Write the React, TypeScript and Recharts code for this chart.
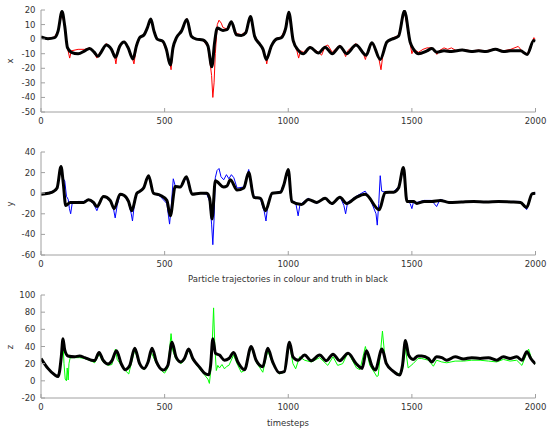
import React from 'react';
import { Line, LineChart, XAxis, YAxis } from 'recharts';

// timesteps on the shared horizontal axis
const timeTicks = [0, 500, 1000, 1500, 2000];
const xTicks = [-50, -40, -30, -20, -10, 0, 10, 20];
const yTicks = [-60, -40, -20, 0, 20, 40];
const zTicks = [-20, 0, 20, 40, 60, 80, 100];

// x: truth (black)
const xTruthT = [0, 28, 55, 69, 85, 96, 107, 123, 150, 177, 197, 214, 231, 244, 264, 285, 301, 318, 336, 352, 372, 386, 399, 417, 430, 444, 457, 470, 493, 507, 523, 534, 548, 568, 590, 608, 628, 655, 675, 691, 702, 713, 736, 752, 770, 790, 810, 828, 847, 864, 885, 898, 911, 932, 952, 972, 990, 1002, 1020, 1040, 1061, 1088, 1122, 1149, 1178, 1209, 1236, 1274, 1315, 1338, 1372, 1399, 1419, 1446, 1470, 1493, 1507, 1527, 1561, 1581, 1601, 1630, 1660, 1703, 1740, 1770, 1800, 1838, 1870, 1900, 1939, 1966, 1993, 2000];
const xTruthV = [1.5, 0.3, 1, 5.5, 19, 9, -5.8, -9, -10, -8, -6.4, -8.7, -11.8, -8.7, -4, -7, -12.5, -5, -2, -5.8, -13.6, -4.6, 1, 3, 7.7, 13.8, 5.5, 0, -1.5, -7, -17.7, -5.8, 1, 5.5, 13.4, 2, 0, -0.6, -4.6, -19, -2.4, 7.7, 6, 6.5, 12, 3, 2.5, 4.4, 15.6, 2, -3.5, -7, -14, -4.6, 0, 1, 7.7, 18.5, -1, -7.5, -10, -5.7, -9.5, -5.5, -10, -5, -10, -4, -11, -2.5, -13.9, -2, 0, 2, 19.3, -2, -7, -10, -8, -6.5, -9, -8, -8.5, -7.5, -8.5, -8, -8.5, -7, -8.5, -8, -8, -10.5, -1, -1.5];

// x: particle (red)
const xPartT = [0, 28, 55, 69, 85, 96, 107, 116, 123, 150, 177, 197, 214, 226, 235, 244, 264, 285, 296, 303, 310, 318, 336, 352, 368, 376, 386, 399, 417, 430, 444, 457, 470, 493, 507, 520, 526, 534, 548, 568, 590, 608, 628, 655, 675, 685, 690, 695, 700, 705, 713, 720, 729, 736, 752, 770, 790, 810, 828, 847, 864, 885, 898, 908, 913, 920, 932, 952, 972, 990, 1002, 1020, 1035, 1042, 1050, 1061, 1088, 1122, 1135, 1149, 1160, 1178, 1209, 1225, 1232, 1240, 1274, 1300, 1312, 1320, 1338, 1365, 1375, 1385, 1399, 1419, 1446, 1470, 1493, 1500, 1507, 1527, 1545, 1561, 1581, 1595, 1601, 1610, 1630, 1645, 1660, 1680, 1703, 1740, 1770, 1800, 1838, 1870, 1900, 1930, 1945, 1966, 1980, 1993, 2000];
const xPartV = [1.5, 0.5, 1.5, 6, 18, 8, -6, -13, -8, -7, -7, -6, -9, -13, -10, -8, -3, -7, -10, -17, -8, -4, -1.5, -5.5, -12, -17, -5, 1, 3.5, 8, 14, 5, 0, -2, -8, -15, -21, -6, 1.5, 6, 14, 2, 0, -1, -5, -18, -25, -40, -30, -10, 10, 13, 11, 8, 7, 12.5, 4, 3, 5, 15, 2, -3, -8, -12, -17, -10, -4, 0.5, 1.5, 8, 18, -2, -8, -13, -8, -9, -5, -9, -11, -5, -4, -9, -4, -9, -12, -8, -3, -8, -14, -9, -2, -12, -21, -8, -2, 0.5, 2.5, 19, -3, -10, -7, -9, -7, -6, -6, -8, -10.5, -8, -6, -7, -6, -8, -7, -8, -7.5, -8, -6.5, -8, -7, -5, -8, -10.5, -5, 1, 0];

// y: truth (black)
const yTruthT = [0, 30, 50, 65, 81, 90, 100, 118, 150, 172, 192, 212, 226, 253, 280, 296, 320, 335, 354, 367, 388, 401, 415, 435, 455, 482, 509, 523, 543, 563, 588, 611, 645, 671, 682, 692, 705, 739, 752, 766, 793, 820, 840, 861, 888, 908, 935, 969, 982, 1000, 1014, 1054, 1081, 1115, 1149, 1176, 1209, 1236, 1275, 1311, 1368, 1392, 1426, 1446, 1466, 1480, 1507, 1520, 1550, 1580, 1615, 1650, 1700, 1750, 1800, 1850, 1900, 1939, 1964, 1986, 2000];
const yTruthV = [-1, 0, 1.7, 5, 26, 10, -12, -9, -9, -9, -6.4, -9, -13, -3.2, -7, -15, -1, -2, -8, -17, 0, 2, 5, 17, 0, -2, -7, -22, 6.6, 6, 16, -1, 0, 0, -5, -25, 12, 6, 7, 13, 3, 5, 20, -4, -5, -17, 0, 1, 8, 23, -8, -11, -6, -9, -5, -10, -4, -10, -4, -1, -16, 0.7, 1, 5, 25, -8, -8, -10, -8, -8, -7, -9, -8.5, -8, -8.5, -8, -8.5, -9, -14, -0.6, 0];

// y: particle (blue)
const yPartT = [0, 30, 50, 65, 81, 90, 96, 103, 110, 115, 120, 126, 150, 172, 192, 212, 226, 240, 253, 280, 293, 300, 308, 320, 335, 354, 365, 370, 378, 388, 401, 415, 435, 455, 482, 509, 520, 526, 535, 543, 563, 588, 611, 645, 671, 682, 690, 695, 700, 705, 712, 720, 728, 739, 750, 760, 770, 780, 793, 820, 840, 861, 888, 903, 910, 918, 935, 969, 982, 1000, 1014, 1030, 1040, 1048, 1054, 1081, 1115, 1149, 1176, 1209, 1225, 1232, 1240, 1275, 1311, 1330, 1355, 1360, 1366, 1372, 1378, 1392, 1426, 1446, 1466, 1480, 1493, 1500, 1507, 1520, 1550, 1580, 1600, 1610, 1615, 1650, 1700, 1750, 1800, 1850, 1900, 1939, 1964, 1986, 2000];
const yPartV = [-1, 0.5, 2, 5.5, 25, 14, 12, -3, -6, -15, -20, -10, -8, -8, -6, -10, -17, -8, -3, -7, -15, -24, -12, -1, -1.5, -9, -20, -27, -10, 0, 2.5, 6, 17, 0, -3, -10, -30, -15, 14, 7, 6, 15, -1, 0, -1, -8, -30, -50, -25, 15, 22, 24, 16, 13, 18, 14, 18, 15, 5, 6, 23, -3, -6, -18, -27, -10, 0, 1.5, 9, 22, -7, -9, -22, -10, -10, -5, -10, -4, -11, -3, -12, -20, -9, -3, 2, -5, -20, -31, -10, 17, 2, 1, 1.5, 6, 24, -7, -10, -15, -8, -9, -7, -7, -13, -8, -6, -9, -8, -8.5, -8, -8.5, -8, -8, -16, 0, 0];

// z: truth (black)
const zTruthT = [0, 28, 55, 69, 75, 82, 89, 96, 109, 136, 156, 177, 204, 217, 235, 251, 271, 287, 305, 325, 341, 359, 379, 399, 417, 433, 449, 467, 494, 513, 530, 546, 566, 580, 597, 614, 641, 661, 679, 686, 695, 706, 722, 742, 760, 779, 796, 823, 850, 870, 897, 917, 937, 964, 984, 1005, 1019, 1040, 1066, 1093, 1127, 1154, 1181, 1208, 1242, 1276, 1299, 1316, 1339, 1352, 1379, 1397, 1424, 1451, 1462, 1474, 1487, 1505, 1525, 1540, 1567, 1580, 1600, 1621, 1641, 1675, 1709, 1742, 1776, 1810, 1843, 1870, 1897, 1924, 1945, 1965, 1981, 2000];
const zTruthV = [26, 14.5, 7, 5, 11, 28, 49, 36, 29, 28, 29, 27, 24, 23.5, 33, 24, 19.6, 23.5, 35, 19.6, 13, 18, 38, 20, 14.5, 22, 38, 22, 12.5, 18, 45, 28, 22, 26, 37, 26, 16, 9, 7, 18, 49, 32, 30, 24, 26, 33, 22, 13, 40, 24, 16.5, 38, 22, 9.4, 10.6, 45, 28, 24, 30, 23.5, 30, 23.5, 31, 23.5, 32, 19.6, 14.5, 35, 17, 12.5, 37, 20, 11.4, 6.7, 18, 47, 30, 25, 29, 29, 26, 22, 28, 27, 24, 28, 25.5, 27, 26, 27, 24, 28, 26, 28, 24, 34, 26, 19.6];

// z: particle (green)
const zPartT = [0, 28, 55, 69, 75, 82, 89, 93, 98, 103, 106, 110, 113, 118, 136, 156, 177, 204, 217, 235, 251, 271, 287, 301, 308, 325, 341, 355, 359, 379, 399, 417, 433, 446, 467, 494, 500, 513, 526, 533, 546, 566, 580, 597, 614, 641, 661, 675, 681, 686, 692, 698, 703, 709, 715, 722, 732, 742, 752, 760, 779, 796, 810, 823, 850, 870, 897, 917, 937, 964, 984, 1005, 1019, 1030, 1046, 1066, 1093, 1127, 1160, 1181, 1200, 1220, 1242, 1276, 1290, 1312, 1330, 1352, 1358, 1364, 1372, 1381, 1390, 1397, 1424, 1451, 1462, 1474, 1485, 1505, 1525, 1540, 1567, 1587, 1600, 1621, 1641, 1675, 1709, 1742, 1776, 1810, 1843, 1870, 1897, 1924, 1945, 1972, 1985, 2000];
const zPartV = [26, 14, 6.5, 4.5, 10, 25, 45, 20, 2, 0, 15, 1, 20, 27, 27, 27, 26, 23, 21, 31, 22, 18, 19, 37, 25, 18, 12, 8, 13, 36, 18, 13, 20, 33, 20, 10, 9, 15, 55, 35, 25, 20, 24, 36, 24, 14, 7, 2, -3, 10, 40, 85, 40, 12, 18, 15, 19, 14, 17, 18, 30, 18, 10, 12, 40, 22, 10, 35, 20, 8, 10, 43, 20, 14, 28, 24, 22, 27, 18, 28, 18, 20, 33, 15, 13, 40, 18, 8, 5, 6, 30, 58, 30, 20, 10, 8, 12, 38, 15, 20, 26, 26, 24, 17, 24, 22, 21, 23, 23, 24, 24, 23, 22, 25, 23, 24, 18, 37, 25, 20];

const font = '"DejaVu Sans", sans-serif';
const axisGrey = '#a0a0a0';
const textGrey = '#333333';

type Pt = { t: number; v: number };
const pts = (ts: number[], vs: number[]): Pt[] => ts.map((t, i) => ({ t, v: vs[i] }));

interface PanelProps {
  top: number;
  height: number;
  marginTop: number;
  marginBottom: number;
  domain: [number, number];
  ticks: number[];
  truth: Pt[];
  particle: Pt[];
  colour: string;
}

const blank = () => '';

const Panel = ({ top, height, marginTop, marginBottom, domain, ticks, truth, particle, colour }: PanelProps) => (
  <div style={{ position: 'absolute', left: 0, top }}>
    <LineChart
      width={547}
      height={height}
      margin={{ top: marginTop, right: 11.5, bottom: marginBottom, left: 11 }}
    >
      <XAxis
        xAxisId="b"
        dataKey="t"
        type="number"
        domain={[0, 2000]}
        ticks={timeTicks}
        interval={0}
        allowDataOverflow
        height={20}
        stroke={axisGrey}
        tickSize={-4}
        tickMargin={10}
        tick={{ fill: textGrey, fontSize: 8.5, fontFamily: font }}
      />
      <XAxis
        xAxisId="t"
        orientation="top"
        dataKey="t"
        type="number"
        domain={[0, 2000]}
        ticks={timeTicks}
        interval={0}
        allowDataOverflow
        height={0}
        stroke={axisGrey}
        tickSize={-4}
        tickFormatter={blank}
      />
      <YAxis
        yAxisId="l"
        type="number"
        domain={domain}
        ticks={ticks}
        interval={0}
        allowDataOverflow
        width={30}
        stroke={axisGrey}
        tickSize={-4}
        tickMargin={9.5}
        tick={{ fill: textGrey, fontSize: 8.5, fontFamily: font }}
      />
      <YAxis
        yAxisId="r"
        orientation="right"
        type="number"
        domain={domain}
        ticks={ticks}
        interval={0}
        allowDataOverflow
        width={0}
        stroke={axisGrey}
        tickSize={-4}
        tickFormatter={blank}
      />
      <Line
        xAxisId="b"
        yAxisId="l"
        data={particle}
        dataKey="v"
        type="linear"
        stroke={colour}
        strokeWidth={1}
        dot={false}
        isAnimationActive={false}
      />
      <Line
        xAxisId="b"
        yAxisId="l"
        data={truth}
        dataKey="v"
        type="monotone"
        stroke="#000000"
        strokeWidth={3}
        dot={false}
        isAnimationActive={false}
      />
    </LineChart>
  </div>
);

export default function App() {
  return (
    <div style={{ position: 'absolute', left: 0, top: 0, width: 547, height: 428, background: '#fff' }}>
      <Panel top={0} height={135} marginTop={10} marginBottom={3} domain={[-50, 20]} ticks={xTicks}
        truth={pts(xTruthT, xTruthV)} particle={pts(xPartT, xPartV)} colour="#ff0000" />
      <Panel top={140} height={140} marginTop={12} marginBottom={5} domain={[-60, 40]} ticks={yTicks}
        truth={pts(yTruthT, yTruthV)} particle={pts(yPartT, yPartV)} colour="#0000ff" />
      <Panel top={285} height={135} marginTop={10} marginBottom={2} domain={[-20, 100]} ticks={zTicks}
        truth={pts(zTruthT, zTruthV)} particle={pts(zPartT, zPartV)} colour="#00ff00" />
      <svg width={547} height={428} style={{ position: 'absolute', left: 0, top: 0, pointerEvents: 'none' }}>
        <g fontFamily={font} fontSize={8.5} fill={textGrey} textAnchor="middle">
          <text transform="translate(12.5,61) rotate(-90)">x</text>
          <text transform="translate(12.5,204) rotate(-90)">y</text>
          <text transform="translate(12.5,347) rotate(-90)">z</text>
          <text x={288} y={282}>Particle trajectories in colour and truth in black</text>
          <text x={288} y={425.5}>timesteps</text>
        </g>
      </svg>
    </div>
  );
}
